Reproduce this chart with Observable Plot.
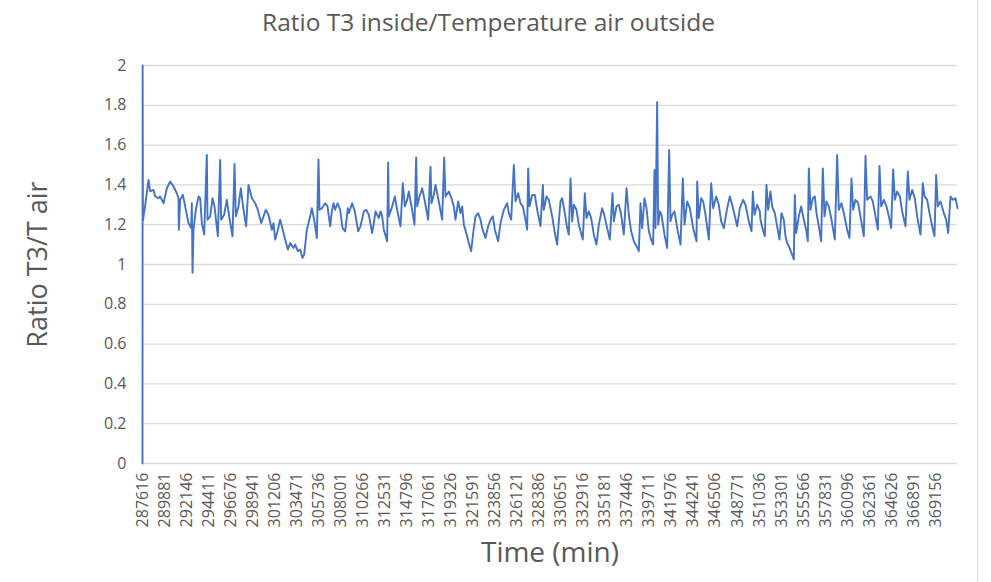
<!DOCTYPE html>
<html>
<head>
<meta charset="utf-8">
<script src="https://cdn.jsdelivr.net/npm/d3@7"></script>
<script src="https://cdn.jsdelivr.net/npm/@observablehq/plot@0.6"></script>
<style>
  html, body { margin: 0; padding: 0; background: #fff; }
  #wrap { width: 977px; height: 582px; border-right: 1px solid #d9d9d9; position: relative; overflow: hidden; }
  #title { height: 45px; line-height: 44px; text-align: center; font-family: "Open Sans", sans-serif; font-size: 24.5px; color: #595959; }
</style>
</head>
<body>
<div id="wrap">
  <div id="title"></div>
  <div id="chart"></div>
</div>
<script>
const chartTitle = "Ratio T3 inside/Temperature air outside";
const yTitle = "Ratio T3/T air";
const xTitle = "Time (min)";

const xLabels = [287616, 289881, 292146, 294411, 296676, 298941, 301206, 303471, 305736, 308001, 310266, 312531, 314796, 317061, 319326, 321591, 323856, 326121, 328386, 330651, 332916, 335181, 337446, 339711, 341976, 344241, 346506, 348771, 351036, 353301, 355566, 357831, 360096, 362361, 364626, 366891, 369156];
const yTicks = [0, 0.2, 0.4, 0.6, 0.8, 1, 1.2, 1.4, 1.6, 1.8, 2];
const xDomain = [287616, 371400];

const times = [
  287616, 287630, 287660, 287900, 288233, 288404, 288747, 288919, 289261, 289433, 289775, 290118, 290461, 290803, 291146, 291317, 291352, 291489, 291763, 292003, 292346, 292620, 292688, 292757, 292860, 293099, 293373, 293545, 293716, 293956, 294230, 294299, 294573, 294813, 295019, 295361, 295601, 295704, 296012, 296287, 296527, 296869, 297075, 297212, 297486, 297726, 298000, 298274, 298514, 298857, 299200, 299474, 299817, 300056, 300296, 300570, 300913, 301084, 301256, 301530, 301770, 301941, 302284, 302558, 302798, 303141, 303312, 303586, 303826, 304066, 304237, 304511, 304854, 305025, 305265, 305539, 305711, 305814, 306053, 306396, 306636, 306910, 307082, 307253, 307424, 307664, 307938, 308178, 308452, 308726,
  308827, 309169, 309444, 309786, 310026, 310369, 310609, 310883, 311226, 311397, 311568, 311740, 311911, 312082, 312254, 312425, 312768, 312871, 312939, 313282, 313556, 313796, 314139, 314378, 314584, 314824, 314995, 315269, 315578, 315749, 315852, 316092, 316366, 316640, 316983, 317223, 317326, 317566, 317737, 318011, 318422, 318628, 318765, 319108, 319382, 319622, 319793, 320067, 320307, 320479, 320650, 320993, 321164, 321404, 321610, 321849, 322123, 322363, 322535, 322877, 323152, 323391, 323631, 323837, 324180, 324420, 324762, 325105, 325276, 325516, 325790, 325962, 326236, 326476, 326716, 326990, 327161, 327264, 327401, 327675, 327950, 328190, 328532, 328772, 328875, 329149, 329389, 329731, 330005,
  330243, 330415, 330586, 330757, 330997, 331272, 331443, 331614, 331786, 331957, 332231, 332471, 332882, 333088, 333259, 333499, 333739, 334013, 334287, 334527, 334870, 335041, 335384, 335658, 335932, 336069, 336343, 336583, 336823, 337097, 337372, 337611, 337851, 338126, 338400, 338640, 338811, 338982, 339222, 339428, 339668, 339908, 340113, 340250, 340353, 340524, 340627, 340799, 340970, 341278, 341553, 341759, 341895, 342067, 342307, 342581, 342924, 343163, 343335, 343609, 343883, 344226, 344569, 344637, 344808, 345048, 345254, 345494, 345836, 346076, 346282, 346590, 346864, 347104, 347378, 347721, 347995, 348235, 348475, 348749, 349024, 349366, 349606, 349949, 350223, 350360, 350531, 350805, 351077,
  351146, 351386, 351592, 351763, 351934, 352174, 352346, 352620, 352860, 353099, 353305, 353545, 353716, 353888, 354059, 354333, 354573, 354676, 354813, 355087, 355327, 355601, 355841, 356012, 356115, 356287, 356526, 356732, 356903, 357143, 357383, 357555, 357726, 357932, 358171, 358446, 358789, 359028, 359200, 359474, 359714, 360056, 360296, 360502, 360673, 360913, 361187, 361427, 361770, 361941, 362112, 362455, 362695, 362969, 363209, 363380, 363552, 363826, 364100, 364340, 364580, 364785, 364957, 365197, 365471, 365711, 366054, 366294, 366465, 366739, 367013, 367253, 367596, 367836, 368007, 368281, 368521, 368796, 369036, 369207, 369378, 369652, 369995, 370235, 370441, 370681, 370921, 371195, 371400
];

const ratios = [
  0, 2.0, 1.22, 1.3, 1.425, 1.367, 1.375, 1.342, 1.333, 1.342, 1.308, 1.383, 1.417, 1.392, 1.358, 1.333, 1.175, 1.325, 1.35, 1.292, 1.208, 1.183, 1.308, 0.958, 1.175, 1.275, 1.342, 1.333, 1.208, 1.15, 1.55, 1.225, 1.242, 1.333, 1.292, 1.142, 1.525, 1.225, 1.25, 1.325, 1.242, 1.142, 1.505, 1.242, 1.292, 1.383, 1.275, 1.192, 1.4, 1.333, 1.308, 1.275, 1.208, 1.242, 1.275, 1.25, 1.175, 1.208, 1.125, 1.175, 1.225, 1.192, 1.125, 1.075, 1.108, 1.083, 1.1, 1.067, 1.075, 1.033, 1.05, 1.175, 1.242, 1.283, 1.225, 1.133, 1.528, 1.275, 1.283, 1.308, 1.292, 1.192, 1.267, 1.308, 1.275, 1.308, 1.275, 1.183, 1.167, 1.283,
  1.258, 1.308, 1.267, 1.167, 1.192, 1.267, 1.275, 1.25, 1.158, 1.208, 1.267, 1.25, 1.233, 1.267, 1.242, 1.175, 1.117, 1.512, 1.242, 1.292, 1.342, 1.275, 1.192, 1.408, 1.292, 1.325, 1.367, 1.292, 1.2, 1.538, 1.292, 1.342, 1.383, 1.317, 1.225, 1.492, 1.308, 1.35, 1.4, 1.333, 1.225, 1.538, 1.342, 1.367, 1.333, 1.292, 1.225, 1.317, 1.258, 1.292, 1.2, 1.142, 1.108, 1.067, 1.158, 1.242, 1.258, 1.225, 1.183, 1.133, 1.192, 1.225, 1.242, 1.175, 1.117, 1.208, 1.275, 1.308, 1.258, 1.225, 1.5, 1.317, 1.358, 1.308, 1.292, 1.225, 1.175, 1.483, 1.292, 1.35, 1.35, 1.275, 1.192, 1.4, 1.275, 1.342, 1.325, 1.242, 1.158,
  1.1, 1.217, 1.317, 1.333, 1.267, 1.183, 1.15, 1.433, 1.217, 1.3, 1.275, 1.2, 1.125, 1.358, 1.233, 1.267, 1.233, 1.15, 1.1, 1.2, 1.283, 1.258, 1.183, 1.125, 1.358, 1.217, 1.292, 1.3, 1.25, 1.15, 1.383, 1.25, 1.167, 1.117, 1.092, 1.067, 1.308, 1.183, 1.333, 1.283, 1.167, 1.125, 1.1, 1.475, 1.183, 1.817, 1.2, 1.267, 1.25, 1.15, 1.083, 1.575, 1.217, 1.25, 1.267, 1.183, 1.1, 1.433, 1.2, 1.317, 1.283, 1.183, 1.117, 1.417, 1.233, 1.333, 1.317, 1.25, 1.125, 1.408, 1.283, 1.342, 1.3, 1.217, 1.183, 1.283, 1.342, 1.3, 1.25, 1.192, 1.283, 1.325, 1.3, 1.217, 1.167, 1.367, 1.25, 1.3, 1.267,
  1.225, 1.175, 1.142, 1.4, 1.275, 1.367, 1.292, 1.258, 1.192, 1.125, 1.258, 1.225, 1.142, 1.108, 1.092, 1.058, 1.025, 1.35, 1.158, 1.242, 1.292, 1.225, 1.175, 1.117, 1.483, 1.275, 1.333, 1.342, 1.258, 1.192, 1.117, 1.483, 1.242, 1.317, 1.292, 1.225, 1.125, 1.55, 1.275, 1.308, 1.258, 1.175, 1.133, 1.433, 1.275, 1.325, 1.308, 1.242, 1.142, 1.545, 1.325, 1.342, 1.317, 1.242, 1.175, 1.495, 1.292, 1.325, 1.292, 1.242, 1.183, 1.478, 1.325, 1.367, 1.342, 1.267, 1.192, 1.467, 1.325, 1.375, 1.333, 1.242, 1.15, 1.408, 1.342, 1.325, 1.258, 1.192, 1.142, 1.45, 1.292, 1.317, 1.258, 1.225, 1.158, 1.342, 1.325, 1.333, 1.283
];

const data = times.map((t, i) => ({t, v: ratios[i]}));

document.getElementById("title").textContent = chartTitle;

const chart = Plot.plot({
  width: 977,
  height: 537,
  marginLeft: 142,
  marginRight: 20,
  marginTop: 20,
  marginBottom: 119,
  style: {fontFamily: "Open Sans, sans-serif", fontSize: "16px", color: "#595959", background: "white", overflow: "visible"},
  x: {domain: xDomain, type: "linear"},
  y: {domain: [0, 2]},
  marks: [
    Plot.gridY(yTicks, {stroke: "#d9d9d9", strokeOpacity: 1, strokeWidth: 1.3}),
    Plot.axisY(yTicks, {tickSize: 0, tickPadding: 16, tickFormat: d => String(d), label: null, fontSize: 16}),
    Plot.axisX(xLabels, {tickSize: 0, tickPadding: 9, tickRotate: -90, tickFormat: d => String(d), label: null, fontSize: 16}),
    Plot.line(data, {x: "t", y: "v", stroke: "#4472c4", strokeWidth: 1.9, strokeLinejoin: "round"}),
    Plot.text([yTitle], {frameAnchor: "left", textAnchor: "middle", lineAnchor: "middle", rotate: -90, dx: -104, fontSize: 27, fill: "#595959"}),
    Plot.text([xTitle], {frameAnchor: "bottom", textAnchor: "middle", lineAnchor: "middle", dy: 90, fontSize: 28, fill: "#595959"})
  ]
});
document.getElementById("chart").appendChild(chart);
</script>
</body>
</html>
